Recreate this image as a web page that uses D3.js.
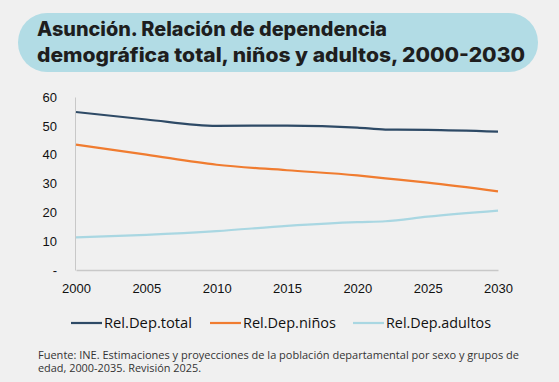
<!DOCTYPE html>
<html>
<head>
<meta charset="utf-8">
<script src="https://cdn.jsdelivr.net/npm/d3@7"></script>
<style>
  body { margin: 0; background: #f0f0f0; }
  svg { display: block; }
</style>
</head>
<body>
<script>
// data
var years = [2000, 2005, 2010, 2015, 2020, 2022, 2025, 2030];
var total = [54.8, 52.2, 50.0, 50.1, 49.4, 48.7, 48.6, 48.0];
var ninos = [43.5, 40.0, 36.5, 34.6, 32.8, 31.8, 30.3, 27.3];
var adultos = [11.3, 12.2, 13.5, 15.3, 16.6, 16.9, 18.5, 20.6];
var seriesNames = ["Rel.Dep.total", "Rel.Dep.niños", "Rel.Dep.adultos"];
var yTicks = [0, 10, 20, 30, 40, 50, 60];
var xTicks = [2000, 2005, 2010, 2015, 2020, 2025, 2030];
var titleLines = ["Asunción. Relación de dependencia", "demográfica total, niños y adultos, 2000-2030"];
var sourceLines = ["Fuente: INE. Estimaciones y proyecciones de la población departamental por sexo y grupos de",
                   "edad, 2000-2035. Revisión 2025."];

var colors = ["#2e4a66", "#f07c30", "#a9d7e2"];
var width = 559, height = 382;

var svg = d3.select("body").append("svg")
  .attr("width", width)
  .attr("height", height);

svg.append("rect").attr("width", width).attr("height", height).attr("fill", "#f0f0f0");

// title pill
svg.append("rect")
  .attr("x", 18).attr("y", 13)
  .attr("width", 520).attr("height", 59)
  .attr("rx", 29).attr("ry", 29)
  .attr("fill", "#b2dce5");

var titleLen = [350, 488];
svg.selectAll(".title").data(titleLines).enter().append("text")
  .attr("class", "title")
  .attr("x", 37)
  .attr("y", function(d, i){ return 36 + i*26; })
  .attr("textLength", function(d, i){ return titleLen[i]; })
  .attr("lengthAdjust", "spacingAndGlyphs")
  .style("font-family", "Inter, 'Open Sans', sans-serif")
  .style("font-weight", 800)
  .style("font-size", "20px")
  .style("fill", "#1e1e1e")
  .text(function(d){ return d; });

var x = d3.scaleLinear().domain([2000, 2030]).range([76, 498]);
var y = d3.scaleLinear().domain([0, 60]).range([270, 97]);

var axisFont = "'Liberation Sans', Arial, sans-serif";

var yAxis = svg.append("g")
  .attr("transform", "translate(75,0)")
  .call(d3.axisLeft(y).tickValues(yTicks).tickSize(0).tickPadding(18)
    .tickFormat(function(d){ return d === 0 ? "-" : d; }));
yAxis.select(".domain").attr("stroke", "#c8c8c8").attr("stroke-width", 1);
yAxis.selectAll("text").style("font-family", axisFont).style("font-size", "13px").style("fill", "#111");

var xAxis = svg.append("g")
  .attr("transform", "translate(0,270)")
  .call(d3.axisBottom(x).tickValues(xTicks).tickSize(0).tickPadding(14).tickFormat(d3.format("d")));
xAxis.select(".domain").attr("stroke", "#c8c8c8").attr("stroke-width", 1.5);
xAxis.selectAll("text").style("font-family", axisFont).style("font-size", "13px").style("fill", "#111");

var line = d3.line()
  .x(function(d){ return x(d[0]); })
  .y(function(d){ return y(d[1]); })
  .curve(d3.curveMonotoneX);

[total, ninos, adultos].forEach(function(vals, i){
  svg.append("path")
    .datum(years.map(function(yr, j){ return [yr, vals[j]]; }))
    .attr("fill", "none")
    .attr("stroke", colors[i])
    .attr("stroke-width", 2.2)
    .attr("d", line);
});

// legend
var legX = [71, 210, 353];
var legLen = [88, 93, 105];
var leg = svg.selectAll(".leg").data(seriesNames).enter().append("g")
  .attr("class", "leg")
  .attr("transform", function(d, i){ return "translate(" + legX[i] + ",323)"; });
leg.append("line")
  .attr("x1", 0).attr("x2", 31)
  .attr("stroke", function(d, i){ return colors[i]; })
  .attr("stroke-width", 2.2);
leg.append("text")
  .attr("x", 33).attr("y", 5)
  .attr("textLength", function(d, i){ return legLen[i]; })
  .attr("lengthAdjust", "spacingAndGlyphs")
  .style("font-family", "'Open Sans', sans-serif")
  .style("font-size", "14px")
  .style("fill", "#111")
  .text(function(d){ return d; });

var srcLen = [481, 163];
svg.selectAll(".src").data(sourceLines).enter().append("text")
  .attr("class", "src")
  .attr("x", 38)
  .attr("y", function(d, i){ return 359 + i*13; })
  .attr("textLength", function(d, i){ return srcLen[i]; })
  .attr("lengthAdjust", "spacingAndGlyphs")
  .style("font-family", "'Open Sans', sans-serif")
  .style("font-size", "10px")
  .style("fill", "#333")
  .text(function(d){ return d; });
</script>
</body>
</html>
